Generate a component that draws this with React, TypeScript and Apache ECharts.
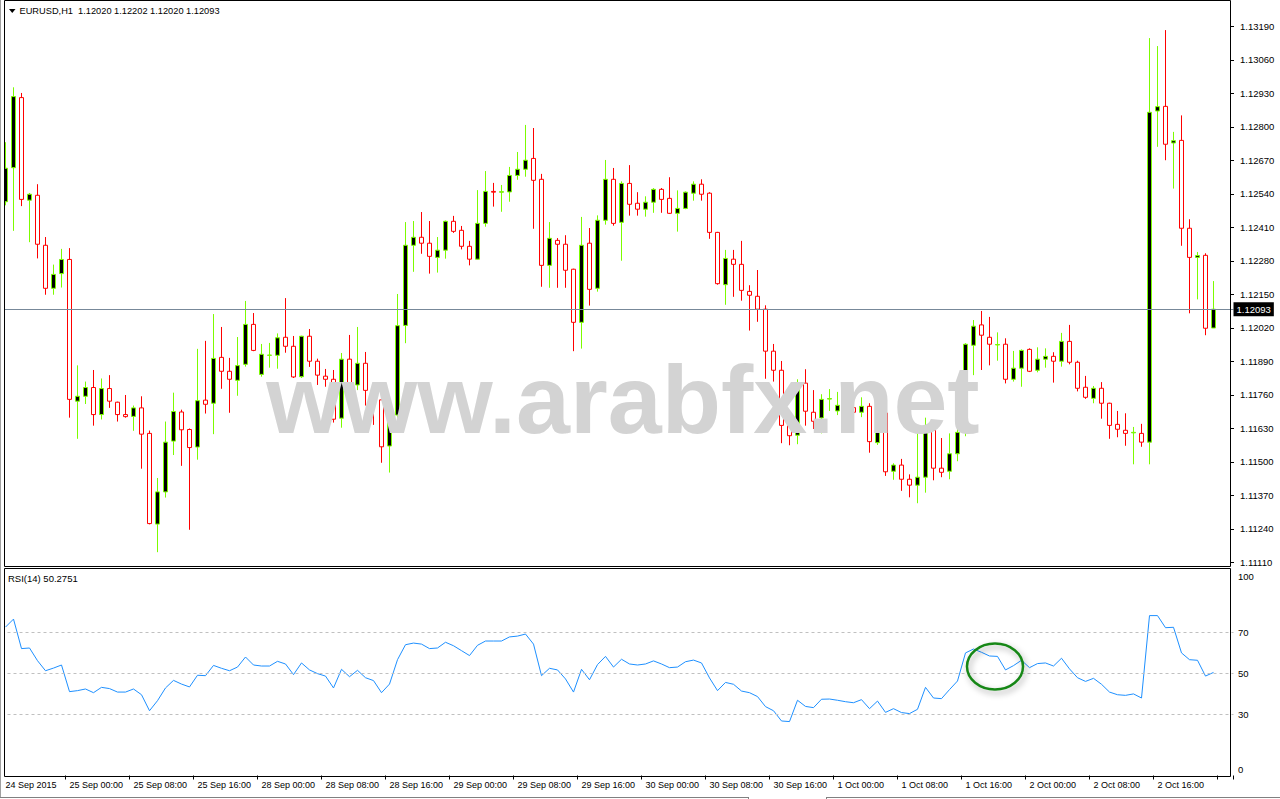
import React, { useEffect, useRef } from 'react';
import * as echarts from 'echarts';

const headerText = 'EURUSD,H1\u00a0 1.12020 1.12202 1.12020 1.12093';
const rsiText = 'RSI(14) 50.2751';
const watermarkText = 'www.arabfx.net';

const timeLabels = [
  '24 Sep 2015', '25 Sep 00:00', '25 Sep 08:00', '25 Sep 16:00', '28 Sep 00:00',
  '28 Sep 08:00', '28 Sep 16:00', '29 Sep 00:00', '29 Sep 08:00', '29 Sep 16:00',
  '30 Sep 00:00', '30 Sep 08:00', '30 Sep 16:00', '1 Oct 00:00', '1 Oct 08:00',
  '1 Oct 16:00', '2 Oct 00:00', '2 Oct 08:00', '2 Oct 16:00',
];

const opens = [
  1.12510, 1.12642, 1.12914, 1.12516, 1.12535, 1.12341, 1.12174, 1.12231, 1.12286, 1.11736,
  1.11755, 1.11789, 1.11684, 1.11785, 1.11732, 1.11684, 1.11677, 1.11710, 1.11611, 1.11259,
  1.11384, 1.11581, 1.11694, 1.11626, 1.11558, 1.11740, 1.11728, 1.11906, 1.11852, 1.11817,
  1.11879, 1.12034, 1.11840, 1.11914, 1.11914, 1.11984, 1.11949, 1.11831, 1.11988, 1.11891,
  1.11833, 1.11821, 1.11670, 1.11899, 1.11799, 1.11883, 1.11778, 1.11741, 1.11562, 1.11682,
  1.12030, 1.12341, 1.12372, 1.12349, 1.12294, 1.12322, 1.12434, 1.12399, 1.12337, 1.12287,
  1.12426, 1.12550, 1.12547, 1.12548, 1.12612, 1.12636, 1.12678, 1.12597, 1.12263, 1.12360,
  1.12345, 1.12248, 1.12042, 1.12349, 1.12174, 1.12438, 1.12597, 1.12430, 1.12581, 1.12504,
  1.12481, 1.12508, 1.12558, 1.12523, 1.12465, 1.12484, 1.12543, 1.12578, 1.12543, 1.12391,
  1.12188, 1.12287, 1.12267, 1.12162, 1.12143, 1.12093, 1.11930, 1.11856, 1.11642, 1.11604,
  1.11806, 1.11693, 1.11671, 1.11744, 1.11698, 1.11720, 1.11711, 1.11693, 1.11716, 1.11575,
  1.11690, 1.11464, 1.11488, 1.11433, 1.11410, 1.11441, 1.11623, 1.11476, 1.11464, 1.11532,
  1.11615, 1.11953, 1.12032, 1.11984, 1.11954, 1.11957, 1.11821, 1.11864, 1.11937, 1.11856,
  1.11899, 1.11910, 1.11891, 1.11968, 1.11887, 1.11790, 1.11747, 1.11786, 1.11728, 1.11646,
  1.11623, 1.11613, 1.11611, 1.11577, 1.12862, 1.12880, 1.12738, 1.12748, 1.12407, 1.12294,
  1.12302, 1.12020,
];

const highs = [
  1.12741, 1.12954, 1.12932, 1.12544, 1.12578, 1.12373, 1.12266, 1.12327, 1.12330, 1.11875,
  1.11812, 1.11857, 1.11824, 1.11837, 1.11734, 1.11760, 1.11719, 1.11755, 1.11622, 1.11438,
  1.11657, 1.11769, 1.11703, 1.11630, 1.11939, 1.11970, 1.12074, 1.12024, 1.11904, 1.11985,
  1.12125, 1.12078, 1.11958, 1.11962, 1.11999, 1.12136, 1.11989, 1.11990, 1.12016, 1.11901,
  1.11861, 1.11857, 1.11923, 1.11993, 1.12024, 1.11927, 1.11799, 1.11760, 1.11721, 1.12152,
  1.12431, 1.12435, 1.12470, 1.12435, 1.12373, 1.12437, 1.12455, 1.12416, 1.12358, 1.12555,
  1.12629, 1.12583, 1.12575, 1.12645, 1.12703, 1.12808, 1.12796, 1.12618, 1.12431, 1.12369,
  1.12380, 1.12250, 1.12451, 1.12408, 1.12457, 1.12672, 1.12641, 1.12589, 1.12652, 1.12547,
  1.12531, 1.12563, 1.12563, 1.12605, 1.12554, 1.12550, 1.12589, 1.12597, 1.12547, 1.12393,
  1.12323, 1.12323, 1.12358, 1.12186, 1.12245, 1.12108, 1.11958, 1.11892, 1.11690, 1.11821,
  1.11860, 1.11779, 1.11763, 1.11783, 1.11772, 1.11748, 1.11741, 1.11751, 1.11728, 1.11721,
  1.11702, 1.11495, 1.11512, 1.11452, 1.11611, 1.11672, 1.11627, 1.11593, 1.11611, 1.11631,
  1.11961, 1.12051, 1.12086, 1.12063, 1.12003, 1.11980, 1.11931, 1.11937, 1.11941, 1.11945,
  1.11941, 1.11926, 1.12001, 1.12032, 1.11893, 1.11834, 1.11795, 1.11810, 1.11730, 1.11698,
  1.11689, 1.11636, 1.11648, 1.13145, 1.13114, 1.13176, 1.12781, 1.12845, 1.12442, 1.12315,
  1.12310, 1.12202,
];

const lows = [
  1.12496, 1.12397, 1.12493, 1.12353, 1.12290, 1.12149, 1.12149, 1.12177, 1.11672, 1.11590,
  1.11725, 1.11641, 1.11665, 1.11710, 1.11657, 1.11672, 1.11621, 1.11474, 1.11258, 1.11150,
  1.11362, 1.11527, 1.11485, 1.11237, 1.11509, 1.11688, 1.11608, 1.11784, 1.11691, 1.11757,
  1.11870, 1.11930, 1.11831, 1.11866, 1.11862, 1.11924, 1.11826, 1.11826, 1.11869, 1.11799,
  1.11792, 1.11653, 1.11633, 1.11748, 1.11779, 1.11719, 1.11644, 1.11497, 1.11459, 1.11663,
  1.11961, 1.12238, 1.12308, 1.12231, 1.12235, 1.12289, 1.12389, 1.12325, 1.12263, 1.12285,
  1.12413, 1.12491, 1.12471, 1.12510, 1.12595, 1.12607, 1.12405, 1.12180, 1.12176, 1.12176,
  1.12176, 1.11930, 1.11940, 1.12107, 1.12161, 1.12421, 1.12417, 1.12281, 1.12456, 1.12456,
  1.12452, 1.12467, 1.12467, 1.12463, 1.12394, 1.12481, 1.12514, 1.12514, 1.12366, 1.12188,
  1.12110, 1.12141, 1.12126, 1.12010, 1.12044, 1.11823, 1.11812, 1.11573, 1.11565, 1.11569,
  1.11641, 1.11628, 1.11611, 1.11698, 1.11682, 1.11682, 1.11682, 1.11674, 1.11536, 1.11566,
  1.11446, 1.11431, 1.11388, 1.11363, 1.11340, 1.11381, 1.11429, 1.11441, 1.11433, 1.11503,
  1.11600, 1.11837, 1.11857, 1.11875, 1.11893, 1.11805, 1.11812, 1.11792, 1.11849, 1.11848,
  1.11866, 1.11808, 1.11870, 1.11879, 1.11774, 1.11745, 1.11728, 1.11668, 1.11590, 1.11596,
  1.11563, 1.11491, 1.11559, 1.11491, 1.12723, 1.12671, 1.12561, 1.12339, 1.12077, 1.12131,
  1.11992, 1.12020,
];

const closes = [
  1.12640, 1.12918, 1.12519, 1.12539, 1.12345, 1.12174, 1.12228, 1.12286, 1.11743, 1.11755,
  1.11789, 1.11684, 1.11785, 1.11736, 1.11684, 1.11676, 1.11710, 1.11608, 1.11261, 1.11384,
  1.11577, 1.11696, 1.11625, 1.11556, 1.11738, 1.11724, 1.11902, 1.11852, 1.11821, 1.11874,
  1.12034, 1.11933, 1.11918, 1.11915, 1.11982, 1.11949, 1.11830, 1.11988, 1.11891, 1.11837,
  1.11821, 1.11666, 1.11899, 1.11799, 1.11883, 1.11778, 1.11741, 1.11559, 1.11682, 1.12029,
  1.12341, 1.12372, 1.12349, 1.12298, 1.12322, 1.12434, 1.12395, 1.12337, 1.12287, 1.12426,
  1.12550, 1.12547, 1.12549, 1.12612, 1.12636, 1.12671, 1.12593, 1.12263, 1.12368, 1.12345,
  1.12244, 1.12042, 1.12341, 1.12170, 1.12438, 1.12597, 1.12426, 1.12581, 1.12500, 1.12481,
  1.12508, 1.12558, 1.12519, 1.12465, 1.12484, 1.12547, 1.12578, 1.12539, 1.12391, 1.12192,
  1.12290, 1.12267, 1.12166, 1.12147, 1.12093, 1.11930, 1.11856, 1.11642, 1.11602, 1.11800,
  1.11697, 1.11658, 1.11743, 1.11746, 1.11720, 1.11710, 1.11693, 1.11716, 1.11579, 1.11690,
  1.11462, 1.11488, 1.11433, 1.11410, 1.11441, 1.11619, 1.11476, 1.11460, 1.11532, 1.11615,
  1.11957, 1.12027, 1.11992, 1.11957, 1.11956, 1.11821, 1.11864, 1.11933, 1.11852, 1.11899,
  1.11910, 1.11891, 1.11968, 1.11887, 1.11786, 1.11751, 1.11786, 1.11728, 1.11642, 1.11627,
  1.11611, 1.11615, 1.11577, 1.12857, 1.12879, 1.12733, 1.12747, 1.12407, 1.12294, 1.12301,
  1.12019, 1.12093,
];

const rsiValues = [
  72.4, 76.3, 61.9, 62.2, 56.0, 51.1, 52.4, 53.9, 40.9, 41.4,
  42.2, 40.4, 43.0, 42.4, 40.7, 40.7, 42.2, 39.4, 31.6, 36.5,
  42.7, 46.4, 44.6, 43.2, 48.9, 48.7, 53.7, 52.3, 51.1, 52.9,
  57.8, 53.9, 53.4, 53.4, 55.7, 54.4, 49.2, 54.9, 51.5, 49.7,
  48.5, 42.7, 51.8, 48.2, 51.3, 47.7, 46.3, 40.4, 44.6, 56.5,
  63.8, 64.6, 64.1, 61.9, 62.2, 65.0, 63.3, 60.9, 58.5, 63.5,
  65.6, 65.6, 65.6, 67.6, 68.0, 69.0, 64.1, 48.7, 52.3, 51.5,
  47.1, 40.7, 51.8, 46.7, 54.1, 58.1, 52.9, 56.7, 54.4, 53.9,
  54.4, 55.9, 54.4, 52.6, 52.9, 55.5, 56.3, 54.9, 47.6, 41.4,
  45.4, 44.5, 41.2, 40.4, 38.5, 33.6, 31.6, 26.6, 26.3, 36.7,
  33.7, 33.1, 37.2, 37.3, 36.7, 36.0, 35.5, 37.0, 32.6, 36.3,
  30.8, 32.6, 30.7, 30.2, 32.3, 43.0, 37.8, 37.5, 41.9, 46.1,
  59.8, 61.7, 60.1, 58.3, 58.1, 51.5, 53.6, 56.2, 52.6, 54.6,
  54.9, 53.4, 57.2, 52.0, 47.7, 45.9, 47.4, 44.5, 40.7, 39.4,
  39.1, 39.8, 37.8, 78.0, 78.0, 72.1, 72.3, 59.8, 56.5, 56.2,
  48.5, 50.28,
];

const priceTicks = [
  1.11110, 1.11240, 1.11370, 1.11500, 1.11630, 1.11760, 1.11890, 1.12020, 1.12150,
  1.12280, 1.12410, 1.12540, 1.12670, 1.12800, 1.12930, 1.13060, 1.13190,
];
const rsiLevels = [30, 50, 70];
const rsiAxisLabels = [0, 30, 50, 70, 100];

const FONT = 'Liberation Sans, Arial, sans-serif';

export default function App() {
  const ref = useRef<HTMLDivElement>(null);

  useEffect(() => {
    if (!ref.current) return;
    const chart = echarts.init(ref.current, undefined, { renderer: 'svg' });

    const barCount = opens.length;
    const catCount = barCount + 2;
    const categories = Array.from({ length: catCount }, (_, i) => String(i));
    const candleData = opens.map((o, i) => [o, closes[i], lows[i], highs[i]]);
    const lastClose = closes[closes.length - 1];

    // RSI pane labels for 0 and 100 sit just inside the pane (MT4 style)
    const rsiLabelPos = rsiAxisLabels.map((v) => (v === 100 ? 97.2 : v === 0 ? 2.8 : v));

    const option: any = {
      animation: false,
      backgroundColor: '#ffffff',
      grid: [
        { left: 1.5, top: 2, width: 1232, height: 564 },
        { left: 1.5, top: 570.5, width: 1232, height: 205 },
      ],
      xAxis: [
        {
          type: 'category',
          gridIndex: 0,
          data: categories,
          boundaryGap: true,
          show: false,
        },
        {
          type: 'category',
          gridIndex: 1,
          data: categories,
          boundaryGap: true,
          axisLine: { show: false },
          axisTick: { show: true, interval: 7, length: 4, lineStyle: { color: '#000' } },
          axisLabel: {
            interval: 7,
            align: 'left',
            margin: 5,
            fontSize: 9,
            fontFamily: FONT,
            color: '#000',
            formatter: (_v: string, idx: number) =>
              idx % 8 === 0 && idx / 8 < timeLabels.length ? timeLabels[idx / 8] : '',
          },
          splitLine: { show: false },
        },
      ],
      yAxis: [
        {
          type: 'value',
          gridIndex: 0,
          position: 'right',
          offset: -3.5,
          min: 1.110964,
          max: 1.13285,
          scale: true,
          axisLine: { show: false },
          axisTick: {
            show: true,
            length: 4,
            customValues: priceTicks,
            lineStyle: { color: '#000' },
          },
          axisLabel: {
            customValues: priceTicks,
            formatter: (v: number) => v.toFixed(5),
            margin: 10,
            fontSize: 9.5,
            fontFamily: FONT,
            color: '#000',
          },
          splitLine: { show: false },
        },
        {
          type: 'value',
          gridIndex: 1,
          position: 'right',
          offset: -3.5,
          min: 0,
          max: 100,
          axisLine: { show: false },
          axisTick: { show: false },
          axisLabel: {
            customValues: rsiLabelPos,
            formatter: (v: number) => (v > 90 ? '100' : v < 10 ? '0' : String(Math.round(v))),
            margin: 8,
            fontSize: 9.5,
            fontFamily: FONT,
            color: '#000',
          },
          splitLine: { show: false },
        },
      ],
      series: [
        {
          type: 'candlestick',
          xAxisIndex: 0,
          yAxisIndex: 0,
          data: candleData,
          barWidth: 5,
          itemStyle: {
            color: '#000000',
            color0: '#ffffff',
            borderColor: '#7CFC00',
            borderColor0: '#FF0000',
            borderColorDoji: '#7CFC00',
            borderWidth: 1,
          },
          markLine: {
            silent: true,
            precision: 5,
            symbol: ['none', 'none'],
            data: [{ yAxis: lastClose }],
            lineStyle: { color: '#778899', width: 1, type: 'solid' },
            label: {
              show: true,
              position: 'end',
              distance: 0,
              formatter: () => lastClose.toFixed(5),
              color: '#fff',
              backgroundColor: '#000',
              padding: [2, 3, 2, 3],
              fontSize: 9.5,
              fontFamily: FONT,
            },
          },
        },
        {
          type: 'line',
          xAxisIndex: 1,
          yAxisIndex: 1,
          data: rsiValues,
          symbol: 'none',
          lineStyle: { color: '#1E90FF', width: 1 },
          markLine: {
            silent: true,
            precision: 2,
            symbol: ['none', 'none'],
            data: rsiLevels.map((v) => ({ yAxis: v })),
            lineStyle: { color: '#C0C0C0', width: 1, type: [3, 3] },
            label: { show: false },
          },
        },
      ],
      graphic: [
        // watermark (drawn on top of candles)
        {
          type: 'text',
          z: 90,
          x: 623,
          y: 399,
          style: {
            text: watermarkText,
            fill: '#D3D3D3',
            fontSize: 97,
            fontWeight: 'bold',
            fontFamily: FONT,
            align: 'center',
            verticalAlign: 'middle',
            textAlign: 'center',
            textVerticalAlign: 'middle',
          },
        },
        // cover left of frame
        { type: 'rect', z: 100, shape: { x: 0, y: 0, width: 4, height: 799 }, style: { fill: '#ffffff' } },
        { type: 'line', z: 101, shape: { x1: 0.5, y1: 0, x2: 0.5, y2: 797 }, style: { stroke: '#A0A0A0', lineWidth: 1 } },
        // frames
        {
          type: 'rect',
          z: 101,
          shape: { x: 4.5, y: 0.5, width: 1226, height: 566 },
          style: { fill: 'none', stroke: '#000', lineWidth: 1 },
        },
        {
          type: 'rect',
          z: 101,
          shape: { x: 4.5, y: 568.5, width: 1226, height: 208 },
          style: { fill: 'none', stroke: '#000', lineWidth: 1 },
        },
        // header
        {
          type: 'polygon',
          z: 102,
          shape: { points: [[9, 9], [15.5, 9], [12.25, 13]] },
          style: { fill: '#000' },
        },
        {
          type: 'text',
          z: 102,
          x: 19.5,
          y: 11,
          style: {
            text: headerText,
            fill: '#000',
            fontSize: 9.25,
            fontFamily: FONT,
            align: 'left',
            verticalAlign: 'middle',
            textAlign: 'left',
            textVerticalAlign: 'middle',
          },
        },
        {
          type: 'text',
          z: 102,
          x: 8,
          y: 578,
          style: {
            text: rsiText,
            fill: '#000',
            fontSize: 9.5,
            fontFamily: FONT,
            align: 'left',
            verticalAlign: 'middle',
            textAlign: 'left',
            textVerticalAlign: 'middle',
          },
        },
        // highlight ellipse in RSI pane
        {
          type: 'ellipse',
          z: 103,
          shape: { cx: 995, cy: 666.5, rx: 28, ry: 23 },
          style: {
            fill: 'none',
            stroke: '#178717',
            lineWidth: 2.5,
            shadowBlur: 6,
            shadowColor: 'rgba(0,0,0,0.35)',
            shadowOffsetX: 2,
            shadowOffsetY: 3,
          },
        },
        // bottom tab bar
        { type: 'rect', z: 101, shape: { x: 0, y: 797, width: 749, height: 1 }, style: { fill: '#808080' } },
        { type: 'rect', z: 101, shape: { x: 748, y: 797, width: 1, height: 2 }, style: { fill: '#808080' } },
        { type: 'rect', z: 101, shape: { x: 826, y: 797, width: 454, height: 1 }, style: { fill: '#808080' } },
        { type: 'rect', z: 101, shape: { x: 826, y: 797, width: 1, height: 2 }, style: { fill: '#808080' } },
      ],
    };

    chart.setOption(option);
    return () => {
      chart.dispose();
    };
  }, []);

  return (
    <div
      ref={ref}
      style={{ position: 'fixed', left: 0, top: 0, width: 1280, height: 799, background: '#fff' }}
    />
  );
}
